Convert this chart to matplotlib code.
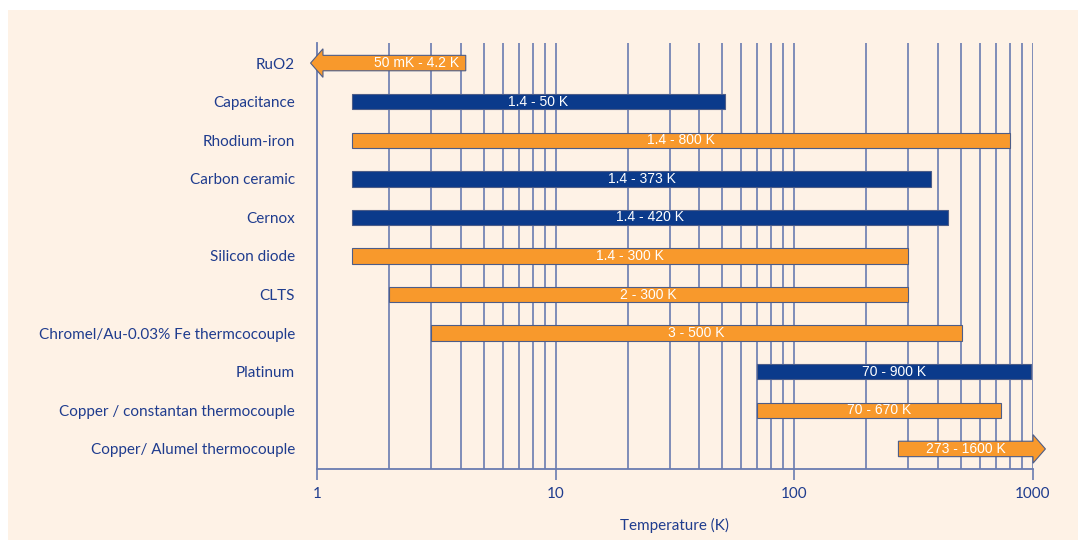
import numpy as np
import matplotlib
matplotlib.use("Agg")
import matplotlib.pyplot as plt
from matplotlib.patches import Polygon, Rectangle
from matplotlib.ticker import FixedLocator, NullFormatter

# DATA

sensors = ["RuO2", "Capacitance", "Rhodium-iron", "Carbon ceramic", "Cernox",
           "Silicon diode", "CLTS", "Chromel/Au-0.03% Fe thermcocouple",
           "Platinum", "Copper / constantan thermocouple", "Copper/ Alumel thermocouple"]
t_low = [0.05, 1.4, 1.4, 1.4, 1.4, 1.4, 2, 3, 70, 70, 273]
t_high = [4.2, 51, 800, 374, 440, 300, 300, 504, 980, 735, 1600]
range_text = ["50 mK - 4.2 K", "1.4 - 50 K", "1.4 - 800 K", "1.4 - 373 K", "1.4 - 420 K",
              "1.4 - 300 K", "2 - 300 K", "3 - 500 K", "70 - 900 K", "70 - 670 K", "273 - 1600 K"]
kind = ["o", "b", "o", "b", "b", "o", "o", "o", "b", "o", "o"]

# STYLE

BG = "#fef2e6"
ORANGE = "#f8992c"
NAVY = "#0b3a8b"
TXT = "#1f3c8e"
GRID = "#6a7cb0"
EDGE = "#4d5d88"
colors = {"o": ORANGE, "b": NAVY}

fig = plt.figure(figsize=(10.78, 5.40), dpi=100)
fig.patch.set_facecolor("white")
fig.patches.append(Rectangle((8 / 1078, 0), 1 - 8 / 1078, 1 - 10 / 540,
                             transform=fig.transFigure, facecolor=BG,
                             edgecolor="none", zorder=-10))

ax = fig.add_axes([317 / 1078, 1 - 469 / 540, (1033 - 317) / 1078, (469 - 43) / 540])
ax.set_facecolor("none")
ax.set_xscale("log")
ax.set_xlim(1, 1000)
n = len(sensors)
ax.set_ylim(n - 1 + 0.52, -0.52)

# grid
major = [1, 10, 100, 1000]
minor = [m * 10 ** d for d in range(3) for m in range(2, 10)]
for v in major[1:] + minor:
    ax.axvline(v, color=GRID, lw=1.2, zorder=1)
ax.xaxis.set_major_locator(FixedLocator(major))
ax.xaxis.set_minor_locator(FixedLocator(minor))
ax.xaxis.set_minor_formatter(NullFormatter())
ax.set_xticklabels(["1", "10", "100", "1000"])
ax.tick_params(axis="x", which="major", length=8, width=1.2, color=GRID,
               labelcolor=TXT, labelsize=11, pad=5)
ax.tick_params(axis="x", which="minor", length=0)

for s in ["top", "right"]:
    ax.spines[s].set_visible(False)
for s in ["left", "bottom"]:
    ax.spines[s].set_color(GRID)
    ax.spines[s].set_linewidth(1.3)
ax.spines["left"].set_zorder(1)

ax.set_yticks(range(n))
ax.set_yticklabels(sensors, fontsize=11, color=TXT, family="Lato")
ax.tick_params(axis="y", length=0, pad=16)
for lab in ax.get_xticklabels():
    lab.set_family("Lato")

ax.set_xlabel("Temperature (K)", fontsize=11, color=TXT, family="Lato", labelpad=12)

# BARS

h = 0.2          # half bar height (rows)
hh = 0.37        # half arrow-head height (rows)
hl = 0.052       # arrow head length (decades)
lo_lim, hi_lim = 1.0, 1000.0

for i in range(n):
    c = colors[kind[i]]
    lo, hi = t_low[i], t_high[i]
    if lo < lo_lim:
        x0 = 10 ** (np.log10(lo_lim) + 0.025)
        tip = 10 ** (np.log10(x0) - hl)
        pts = [(hi, i - h), (x0, i - h), (x0, i - hh), (tip, i),
               (x0, i + hh), (x0, i + h), (hi, i + h)]
        ax.add_patch(Polygon(pts, closed=True, facecolor=c, edgecolor=EDGE,
                             lw=0.8, zorder=3, clip_on=False))
        xt = 10 ** (np.log10(hi) - 0.028)
        ax.text(xt, i, range_text[i], ha="right", va="center", color="white",
                fontsize=10, family="Liberation Sans", zorder=4)
    elif hi > hi_lim:
        x1 = hi_lim
        tip = 10 ** (np.log10(x1) + hl)
        pts = [(lo, i - h), (x1, i - h), (x1, i - hh), (tip, i),
               (x1, i + hh), (x1, i + h), (lo, i + h)]
        ax.add_patch(Polygon(pts, closed=True, facecolor=c, edgecolor=EDGE,
                             lw=0.8, zorder=3, clip_on=False))
        xt = np.sqrt(lo * x1)
        ax.text(xt, i, range_text[i], ha="center", va="center", color="white",
                fontsize=10, family="Liberation Sans", zorder=4)
    else:
        ax.barh(i, hi - lo, left=lo, height=2 * h, color=c, edgecolor=EDGE,
                lw=0.8, zorder=3)
        ax.text(np.sqrt(lo * hi), i, range_text[i], ha="center", va="center",
                color="white", fontsize=10, family="Liberation Sans", zorder=4)

fig.savefig("out.png", dpi=100, facecolor=fig.get_facecolor())
